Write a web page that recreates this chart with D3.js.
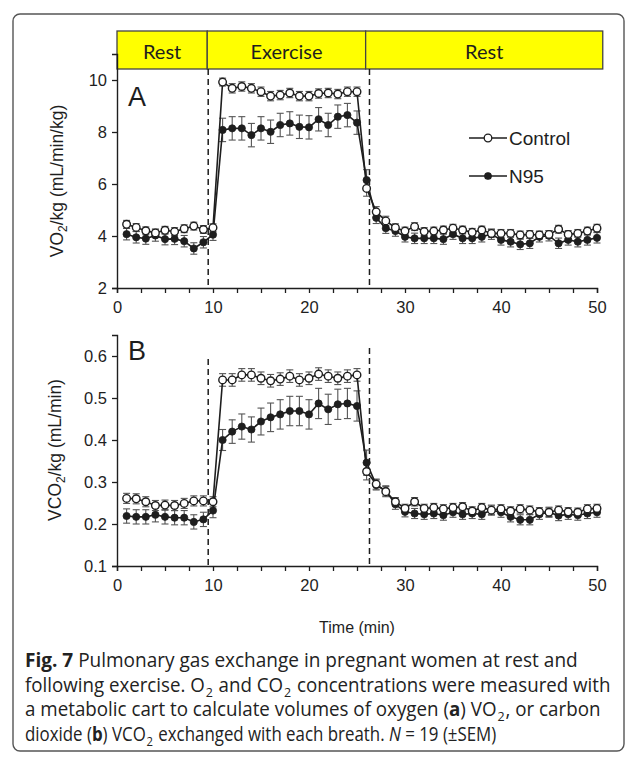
<!DOCTYPE html>
<html>
<head>
<meta charset="utf-8">
<script src="https://cdn.jsdelivr.net/npm/d3@7"></script>
<style>
body { margin: 0; background: #fff; }
svg { display: block; }
</style>
</head>
<body>
<div id="chart"></div>
<script>
// time points (min)
var minutes = [1,2,3,4,5,6,7,8,9,10,11,12,13,14,15,16,17,18,19,20,21,22,23,24,25,
  26,27,28,29,30,31,32,33,34,35,36,37,38,39,40,41,42,43,44,45,46,47,48,49,50];

// panel A: VO2/kg
var vo2Control = [4.45,4.33,4.2,4.12,4.22,4.17,4.28,4.38,4.25,4.32,
  9.92,9.68,9.75,9.68,9.55,9.38,9.42,9.5,9.38,9.38,9.48,9.5,9.46,9.55,9.55,
  5.83,
  4.93,4.58,4.32,4.19,4.36,4.17,4.19,4.23,4.3,4.23,4.14,4.23,4.1,4.1,4.1,4.04,4.06,4.04,4.06,4.26,4.06,4.1,4.19,4.3];
var vo2ControlErr = [0.15,0.15,0.15,0.15,0.15,0.15,0.15,0.15,0.15,0.15,
  0.15,0.18,0.18,0.18,0.18,0.18,0.18,0.18,0.18,0.18,0.18,0.18,0.18,0.18,0.18,
  0.3,
  0.2,0.18,0.15,0.15,0.15,0.15,0.15,0.15,0.15,0.15,0.15,0.15,0.15,0.15,0.15,0.15,0.15,0.15,0.15,0.15,0.15,0.15,0.15,0.15];
var vo2N95 = [4.07,3.95,3.9,4.02,3.88,3.89,3.8,3.52,3.76,4.05,
  8.08,8.14,8.14,7.88,8.14,8.01,8.27,8.33,8.2,8.18,8.49,8.27,8.59,8.65,8.36,
  6.15,
  4.7,4.3,4.19,3.97,3.91,3.91,3.91,3.88,4.07,3.91,3.91,3.97,4.07,3.85,3.78,3.68,3.72,3.97,4.01,3.72,3.85,3.78,3.85,3.93];
var vo2N95Err = [0.22,0.22,0.22,0.22,0.22,0.22,0.22,0.22,0.22,0.22,
  0.45,0.45,0.45,0.45,0.45,0.45,0.45,0.45,0.45,0.45,0.45,0.45,0.45,0.45,0.45,
  0.4,
  0.22,0.2,0.2,0.2,0.2,0.2,0.2,0.2,0.2,0.2,0.2,0.2,0.2,0.2,0.2,0.2,0.2,0.2,0.2,0.2,0.2,0.2,0.2,0.2];

// panel B: VCO2/kg
var vco2Control = [0.261,0.26,0.253,0.244,0.245,0.244,0.249,0.255,0.255,0.253,
  0.543,0.543,0.555,0.555,0.547,0.541,0.545,0.552,0.543,0.547,0.557,0.552,0.547,0.552,0.555,
  0.325,
  0.295,0.277,0.253,0.237,0.253,0.237,0.239,0.236,0.239,0.241,0.231,0.239,0.233,0.236,0.231,0.236,0.233,0.229,0.228,0.233,0.229,0.228,0.236,0.237];
var vco2ControlErr = [0.012,0.012,0.012,0.012,0.012,0.012,0.012,0.012,0.012,0.012,
  0.015,0.015,0.015,0.015,0.015,0.015,0.015,0.015,0.015,0.015,0.015,0.015,0.015,0.015,0.015,
  0.02,
  0.012,0.012,0.01,0.01,0.01,0.01,0.01,0.01,0.01,0.01,0.01,0.01,0.01,0.01,0.01,0.01,0.01,0.01,0.01,0.01,0.01,0.01,0.01,0.01];
var vco2N95 = [0.219,0.217,0.217,0.222,0.217,0.215,0.215,0.205,0.211,0.232,
  0.40,0.42,0.432,0.425,0.444,0.454,0.461,0.469,0.469,0.461,0.487,0.473,0.485,0.487,0.481,
  0.346,
  0.293,0.279,0.247,0.229,0.225,0.223,0.225,0.221,0.228,0.223,0.225,0.223,0.233,0.228,0.217,0.21,0.21,0.223,0.228,0.22,0.223,0.221,0.225,0.228];
var vco2N95Err = [0.017,0.017,0.017,0.017,0.017,0.017,0.017,0.017,0.017,0.017,
  0.025,0.028,0.03,0.03,0.032,0.034,0.035,0.035,0.035,0.035,0.036,0.036,0.036,0.036,0.036,
  0.03,
  0.012,0.012,0.012,0.012,0.012,0.012,0.012,0.012,0.012,0.012,0.012,0.012,0.012,0.012,0.012,0.012,0.012,0.012,0.012,0.012,0.012,0.012,0.012,0.012];

// phase header
var phases = ["Rest", "Exercise", "Rest"];
var phaseBounds = [0, 9.4, 25.9, 50.6];
var dashTimes = [9.5, 26.3];

var W = 637, H = 761;
var svg = d3.select("#chart").append("svg").attr("width", W).attr("height", H);

// outer frame
svg.append("rect").attr("x", 13).attr("y", 14).attr("width", 611).attr("height", 737)
  .attr("rx", 7).attr("fill", "#fff").attr("stroke", "#555").attr("stroke-width", 1.4);

var x = d3.scaleLinear().domain([0, 50]).range([117, 597]);
var axisFont = "'Liberation Sans', Arial, sans-serif";
var ink = "#1e1e1e";

// header boxes
var hdr = svg.append("g");
hdr.selectAll("rect").data(phases).enter().append("rect")
  .attr("x", (d, i) => x(phaseBounds[i])).attr("y", 31)
  .attr("width", (d, i) => x(phaseBounds[i + 1]) - x(phaseBounds[i])).attr("height", 38)
  .attr("fill", "#ffff00").attr("stroke", "#444").attr("stroke-width", 1.3);
hdr.selectAll("text").data(phases).enter().append("text")
  .attr("x", (d, i) => (x(phaseBounds[i]) + x(phaseBounds[i + 1])) / 2).attr("y", 59)
  .attr("text-anchor", "middle").attr("font-family", "Lato, 'Open Sans', sans-serif")
  .attr("font-size", 20).attr("fill", ink).text(d => d);

function panel(opt) {
  var y = d3.scaleLinear().domain(opt.domain).range(opt.range);
  var g = svg.append("g");

  // dashed phase lines
  g.selectAll(".dash").data(dashTimes).enter().append("line")
    .attr("x1", d => x(d)).attr("x2", d => x(d))
    .attr("y1", (d, i) => opt.dashTop[i]).attr("y2", opt.range[0])
    .attr("stroke", ink).attr("stroke-width", 1.5).attr("stroke-dasharray", "6,4");

  // axes
  var xa = g.append("g").attr("transform", "translate(0," + opt.range[0] + ")")
    .call(d3.axisBottom(x).tickValues(d3.range(0, 50.1, 2.5)).tickSize(5).tickPadding(8)
      .tickFormat(d => d % 10 === 0 ? d : ""));
  var ya = g.append("g").attr("transform", "translate(" + x(0) + ",0)")
    .call(d3.axisLeft(y).tickValues(opt.ticks).tickSize(5).tickPadding(5).tickFormat(opt.fmt));
  [xa, ya].forEach(a => {
    a.select(".domain").attr("stroke", ink).attr("stroke-width", 1.4);
    a.selectAll(".tick line").attr("stroke", ink).attr("stroke-width", 1.3);
    a.selectAll("text").attr("font-family", axisFont).attr("font-size", 16.5).attr("fill", ink);
  });

  var series = [
    { v: opt.ctl, e: opt.ctlErr, open: true },
    { v: opt.n95, e: opt.n95Err, open: false }
  ];
  series.forEach(s => {
    var pts = minutes.map((m, i) => ({ t: m, v: s.v[i], e: s.e[i] }));
    var eb = g.append("g").attr("stroke", "#555").attr("stroke-width", 1.1);
    pts.forEach(p => {
      eb.append("line").attr("x1", x(p.t)).attr("x2", x(p.t)).attr("y1", y(p.v - p.e)).attr("y2", y(p.v + p.e));
      [p.v - p.e, p.v + p.e].forEach(w => eb.append("line").attr("x1", x(p.t) - 3.5).attr("x2", x(p.t) + 3.5)
        .attr("y1", y(w)).attr("y2", y(w)));
    });
    s.pts = pts;
  });
  series.forEach(s => {
    g.append("path").datum(s.pts).attr("fill", "none").attr("stroke", ink).attr("stroke-width", 1.6)
      .attr("d", d3.line().x(d => x(d.t)).y(d => y(d.v)));
  });
  // filled first, open circles on top
  [series[1], series[0]].forEach(s => {
    g.selectAll(null).data(s.pts).enter().append("circle")
      .attr("cx", d => x(d.t)).attr("cy", d => y(d.v)).attr("r", s.open ? 3.8 : 3.6)
      .attr("fill", s.open ? "#fff" : ink).attr("stroke", ink).attr("stroke-width", s.open ? 1.4 : 0.8);
  });

  g.append("text").attr("x", 128).attr("y", opt.letterY).attr("font-family", axisFont)
    .attr("font-size", 27).attr("fill", ink).text(opt.letter);

  var t = g.append("text").attr("transform", "translate(" + opt.titleX + "," + opt.titleY + ") rotate(-90)")
    .attr("text-anchor", "middle").attr("font-family", axisFont).attr("font-size", 17.5).attr("fill", ink);
  t.append("tspan").text(opt.title[0]);
  t.append("tspan").attr("font-size", 12).attr("dy", 4).text("2");
  t.append("tspan").attr("dy", -4).text(opt.title[1]);
  return y;
}

panel({
  domain: [2, 11], range: [288, 54], ticks: [2, 4, 6, 8, 10], fmt: d3.format("d"),
  ctl: vo2Control, ctlErr: vo2ControlErr, n95: vo2N95, n95Err: vo2N95Err,
  dashTop: [69, 69], letter: "A", letterY: 106,
  title: ["VO", "/kg (mL/min/kg)"], titleX: 63, titleY: 181
});
panel({
  domain: [0.1, 0.65], range: [566, 335], ticks: [0.1, 0.2, 0.3, 0.4, 0.5, 0.6], fmt: d3.format(".1f"),
  ctl: vco2Control, ctlErr: vco2ControlErr, n95: vco2N95, n95Err: vco2N95Err,
  dashTop: [359, 348], letter: "B", letterY: 360,
  title: ["VCO", "/kg (mL/min)"], titleX: 61, titleY: 450
});

// legend
var legend = [{ name: "Control", open: true, y: 138 }, { name: "N95", open: false, y: 176 }];
var lg = svg.append("g");
legend.forEach(l => {
  lg.append("line").attr("x1", 469).attr("x2", 507).attr("y1", l.y).attr("y2", l.y)
    .attr("stroke", ink).attr("stroke-width", 1.6);
  lg.append("circle").attr("cx", 488).attr("cy", l.y).attr("r", l.open ? 3.8 : 3.2)
    .attr("fill", l.open ? "#fff" : ink).attr("stroke", ink).attr("stroke-width", 1.3);
  lg.append("text").attr("x", 509).attr("y", l.y + 7).attr("font-family", axisFont)
    .attr("font-size", 19).attr("fill", ink).text(l.name);
});

svg.append("text").attr("x", 357).attr("y", 633).attr("text-anchor", "middle")
  .attr("font-family", axisFont).attr("font-size", 16).attr("fill", ink).text("Time (min)");

// caption: each line squeezed horizontally to the width it has in the original
var capFont = "'Open Sans', 'Noto Sans', sans-serif";
var capLines = [
  [["Fig. 7", "b"], [" Pulmonary gas exchange in pregnant women at rest and"]],
  [["following exercise. O"], ["2", "sub"], [" and CO"], ["2", "sub"], [" concentrations were measured with"]],
  [["a metabolic cart to calculate volumes of oxygen ("], ["a", "b"], [") VO"], ["2", "sub"], [", or carbon"]],
  [["dioxide ("], ["b", "b"], [") VCO"], ["2", "sub"], [" exchanged with each breath. "], ["N", "i"], [" = 19 (\u00b1SEM)"]]
];
var capWidths = [553, 582, 574, 470];
capLines.forEach((parts, i) => {
  var t = svg.append("text").attr("x", 0).attr("y", 0)
    .attr("font-family", capFont).attr("font-size", 19.5).attr("fill", "#222");
  parts.forEach((p, j) => {
    var s = t.append("tspan").text(p[0]);
    if (p[1] === "b") s.attr("font-weight", "bold");
    if (p[1] === "i") s.attr("font-style", "italic");
    if (p[1] === "sub") s.attr("font-size", 13).attr("dy", 5).attr("dx", 1);
    else if (j > 0 && parts[j - 1][1] === "sub") s.attr("dy", -5).attr("dx", 1);
  });
  var sx = capWidths[i] / t.node().getComputedTextLength();
  t.attr("transform", "translate(25," + (667 + i * 24.7) + ") scale(" + sx + ",1)");
});
</script>
</body>
</html>
